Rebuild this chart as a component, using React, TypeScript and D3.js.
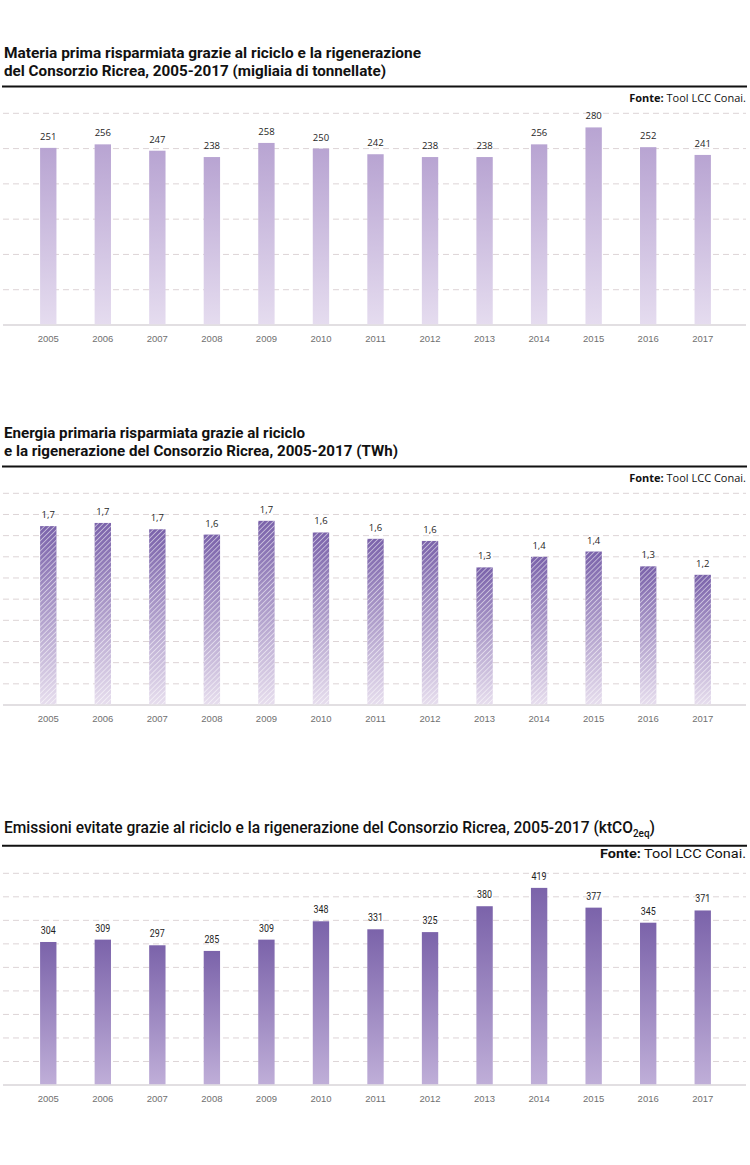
import React from "react";
import * as d3 from "d3";

const years = ["2005","2006","2007","2008","2009","2010","2011","2012","2013","2014","2015","2016","2017"];
const materiaValues = [251,256,247,238,258,250,242,238,238,256,280,252,241];
const energiaValues = [1.69,1.72,1.66,1.61,1.74,1.63,1.57,1.55,1.30,1.40,1.45,1.31,1.23];
const energiaLabels = ["1,7","1,7","1,7","1,6","1,7","1,6","1,6","1,6","1,3","1,4","1,4","1,3","1,2"];
const emissioniValues = [304,309,297,285,309,348,331,325,380,419,377,345,371];

const title1 = ["Materia prima risparmiata grazie al riciclo e la rigenerazione", "del Consorzio Ricrea, 2005-2017 (migliaia di tonnellate)"];
const title2 = ["Energia primaria risparmiata grazie al riciclo", "e la rigenerazione del Consorzio Ricrea, 2005-2017 (TWh)"];
const title3 = "Emissioni evitate grazie al riciclo e la rigenerazione del Consorzio Ricrea, 2005-2017 (ktCO";
const title3Sub = "2eq";
const sourceBold = "Fonte:";
const sourceText = " Tool LCC Conai.";

const W = 750;
const H = 1165;

type ChartProps = {
  values: number[];
  labels: string[];
  yMax: number;
  tickCount: number;
  base: number;
  top: number;
  gradId: string;
  hatch?: boolean;
  condensed?: boolean;
};

function Bars({ values, labels, yMax, tickCount, base, top, gradId, hatch, condensed }: ChartProps) {
  const x = d3.scaleBand<string>().domain(years).range([21, 730]).paddingInner(0.7).paddingOuter(0.35);
  const y = d3.scaleLinear().domain([0, yMax]).range([base, top]);
  const ticks = y.ticks(tickCount).filter((t) => t > 0);
  const labelFont = condensed ? "Roboto, sans-serif" : "'Open Sans', sans-serif";
  return (
    <g>
      {ticks.map((t) => (
        <line key={t} x1={3} x2={746} y1={y(t)} y2={y(t)} stroke="#ddd4d6" strokeWidth={1} strokeDasharray="6,4" />
      ))}
      <line x1={3} x2={746} y1={base} y2={base} stroke="#d9d5d9" strokeWidth={1.5} />
      {values.map((v, i) => {
        const bx = x(years[i])!;
        const bw = x.bandwidth();
        const by = y(v);
        return (
          <g key={years[i]}>
            <rect x={bx} y={by} width={bw} height={base - by - 0.75} fill={`url(#${gradId})`} />
            {hatch && <rect x={bx} y={by} width={bw} height={base - by - 0.75} fill="url(#hatch)" />}
            <text
              x={bx + bw / 2}
              y={by - 8}
              textAnchor="middle"
              fontFamily={labelFont}
              fontSize={condensed ? 10.5 : 9.5}
              fill="#1e1e1e"
              {...(condensed ? { textLength: 15, lengthAdjust: "spacingAndGlyphs" } : {})}
            >
              {labels[i]}
            </text>
            <text
              x={bx + bw / 2}
              y={base + 16.5}
              textAnchor="middle"
              fontFamily="'Liberation Sans', Arial, sans-serif"
              fontSize={9.5}
              fill="#707070"
            >
              {years[i]}
            </text>
          </g>
        );
      })}
    </g>
  );
}

function Header({ lines, widths, y0, ruleY }: { lines: string[]; widths: number[]; y0: number; ruleY: number }) {
  return (
    <g>
      {lines.map((l, i) => (
        <text
          key={i}
          x={4}
          y={y0 + i * 17.5}
          fontFamily="Roboto, sans-serif"
          fontWeight={700}
          fontSize={15}
          fill="#111"
          textLength={widths[i]}
          lengthAdjust="spacingAndGlyphs"
        >
          {l}
        </text>
      ))}
      <line x1={2} x2={747} y1={ruleY} y2={ruleY} stroke="#111" strokeWidth={2} />
      <text
        x={746}
        y={ruleY + 15.5}
        textAnchor="end"
        fontFamily="'Open Sans', sans-serif"
        fontSize={11}
        fill="#111"
      >
        <tspan fontWeight={700}>{sourceBold}</tspan>
        <tspan>{sourceText}</tspan>
      </text>
    </g>
  );
}

export default function App() {
  const materiaLabels = materiaValues.map((v) => String(v));
  const emissioniLabels = emissioniValues.map((v) => String(v));
  return (
    <svg width={W} height={H} style={{ position: "absolute", left: 0, top: 0, background: "#fff" }}>
      <defs>
        <linearGradient id="g1" x1="0" y1="0" x2="0" y2="1">
          <stop offset="0" stopColor="#b8a4d2" />
          <stop offset="1" stopColor="#e5dcef" />
        </linearGradient>
        <linearGradient id="g2" x1="0" y1="0" x2="0" y2="1">
          <stop offset="0" stopColor="#7a62aa" />
          <stop offset="1" stopColor="#e6dded" />
        </linearGradient>
        <linearGradient id="g3" x1="0" y1="0" x2="0" y2="1">
          <stop offset="0" stopColor="#7b63aa" />
          <stop offset="1" stopColor="#bfaed8" />
        </linearGradient>
        <pattern id="hatch" patternUnits="userSpaceOnUse" width={3.6} height={3.6} patternTransform="rotate(45)">
          <line x1={0} y1={0} x2={0} y2={3.6} stroke="#ffffff" strokeWidth={1.4} strokeOpacity={0.7} />
        </pattern>
      </defs>

      <Header lines={title1} widths={[417, 382]} y0={58} ruleY={86.5} />
      <Bars values={materiaValues} labels={materiaLabels} yMax={300} tickCount={6} base={325} top={113.3} gradId="g1" />

      <Header lines={title2} widths={[301, 394]} y0={438} ruleY={466.5} />
      <Bars values={energiaValues} labels={energiaLabels} yMax={2} tickCount={10} base={705} top={493.3} gradId="g2" hatch />

      <text x={4} y={832.5} fontFamily="Roboto, sans-serif" fontWeight={500} fontSize={16.5} fill="#111" textLength={651} lengthAdjust="spacingAndGlyphs">
        {title3}
        <tspan dy={4} fontSize={10.5}>{title3Sub}</tspan>
        <tspan dy={-4}>)</tspan>
      </text>
      <g>
        <line x1={2} x2={747} y1={845.8} y2={845.8} stroke="#111" strokeWidth={2} />
        <text x={746} y={857.5} textAnchor="end" fontFamily="Roboto, sans-serif" fontSize={12.5} fill="#111" textLength={146} lengthAdjust="spacingAndGlyphs">
          <tspan fontWeight={700}>{sourceBold}</tspan>
          <tspan>{sourceText}</tspan>
        </text>
      </g>
      <Bars values={emissioniValues} labels={emissioniLabels} yMax={450} tickCount={9} base={1085} top={873.3} gradId="g3" condensed />
    </svg>
  );
}
